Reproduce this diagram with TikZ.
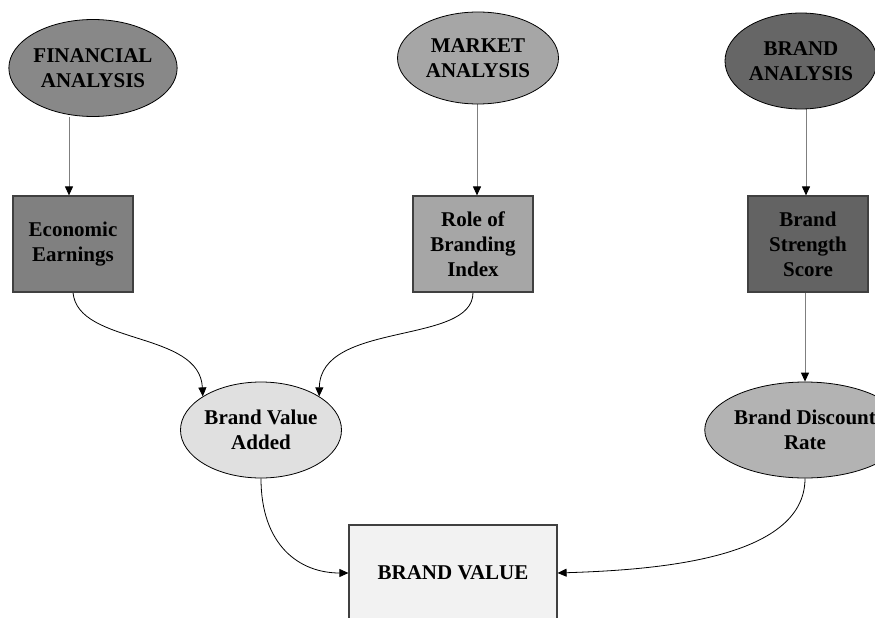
\documentclass[tikz,border=0pt]{standalone}
\usepackage{fontspec}
\setmainfont{Liberation Serif}
\usetikzlibrary{arrows.meta,shapes.geometric,backgrounds,calc}

\definecolor{finfill}{HTML}{888888}
\definecolor{mktfill}{HTML}{A6A6A6}
\definecolor{brdfill}{HTML}{666666}
\definecolor{econfill}{HTML}{808080}
\definecolor{rolefill}{HTML}{A6A6A6}
\definecolor{strfill}{HTML}{636363}
\definecolor{bvafill}{HTML}{E0E0E0}
\definecolor{bdrfill}{HTML}{B3B3B3}
\definecolor{bvfill}{HTML}{F2F2F2}
\definecolor{boxline}{HTML}{404040}
\definecolor{feedgray}{HTML}{7F7F7F}

\begin{document}
\begin{tikzpicture}[x=1pt,y=-1pt,
  every node/.style={font=\fontsize{21}{25}\selectfont\bfseries, align=center, inner sep=0pt},
  oval/.style={ellipse, draw=black, line width=0.8pt},
  blk/.style={rectangle, draw=boxline, line width=1.2pt, minimum width=120pt, minimum height=96pt},
  feed/.style={draw=feedgray, line width=1pt, -{Triangle[length=9pt,width=8pt,color=black]}},
  flow/.style={draw=black, line width=0.8pt, -{Triangle[length=9pt,width=8pt]}}]

\useasboundingbox (0,0) rectangle (875,618);

% analysis sources
\node[oval, fill=finfill, minimum width=161pt, minimum height=97pt] (fin) at (93,68) {FINANCIAL\\ANALYSIS};
\node[oval, fill=mktfill, minimum width=161pt, minimum height=92pt] (mkt) at (478,58) {MARKET\\ANALYSIS};
\node[oval, fill=brdfill, minimum width=152pt, minimum height=96pt] (brd) at (801,61) {BRAND\\ANALYSIS};

% intermediate measures
\node[blk, fill=econfill] (econ) at (73,244) {Economic\\Earnings};
\node[blk, fill=rolefill] (role) at (473,244) {Role of\\Branding\\Index};
\node[blk, fill=strfill] (str) at (808,244) {Brand\\Strength\\Score};

% derived quantities
\node[oval, fill=bvafill, minimum width=161pt, minimum height=96pt] (bva) at (261,430) {Brand Value\\Added};
\node[oval, fill=bdrfill, minimum width=160pt, minimum height=96pt] (bdr) at (805,430) {Brand Discount\\Rate};

% result
\node[blk, fill=bvfill, minimum width=208pt] (bv) at (453,573) {BRAND VALUE};

\coordinate (econtop) at ($(econ.north)+(-4,0)$);
\coordinate (roletop) at ($(role.north)+(4,0)$);
\coordinate (strtop) at ($(str.north)+(-2,0)$);

\begin{scope}[on background layer]
  \draw[feed] (fin.south -| econtop) -- (econtop);
  \draw[feed] (mkt.south -| roletop) -- (roletop);
  \draw[feed] (brd.south -| strtop) -- (strtop);
  \draw[feed] (str.south -| bdr.north) -- (bdr.north);

  \draw[flow] (econ.south) .. controls +(5,53) and +(-3,-66) .. (bva.150);
  \draw[flow] (role.south) .. controls +(0,53) and +(1,-76) .. (bva.30);
  \draw[flow] (bva.south) .. controls +(0,67) and +(-49,0) .. (bv.west);
  \draw[flow] (bdr.south) .. controls +(0,82) and +(93,-3) .. (bv.east);
\end{scope}
\end{tikzpicture}
\end{document}
